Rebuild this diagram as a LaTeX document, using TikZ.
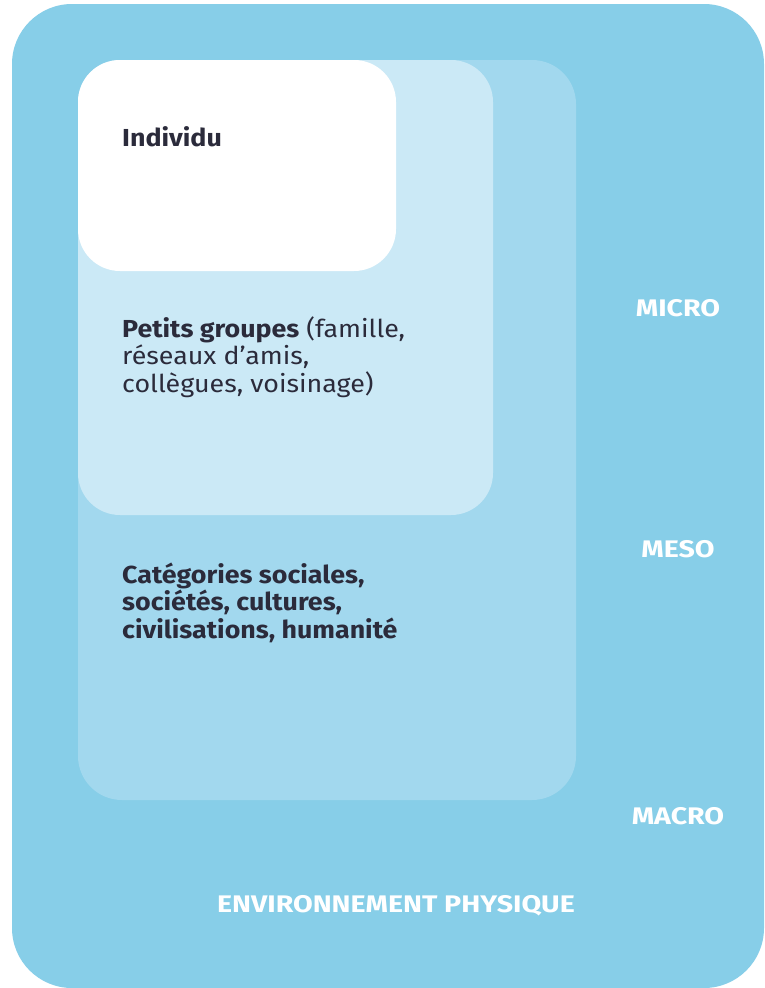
\documentclass[tikz,border=0pt]{standalone}
\usepackage{fontspec}
\setmainfont[FakeStretch=1.09]{Fira Sans}
\newfontfamily\lblfont[FakeStretch=1.19]{Fira Sans}
\definecolor{outerblue}{HTML}{87CEE8}
\definecolor{mesoblue}{HTML}{A2D8EE}
\definecolor{microblue}{HTML}{CBE9F6}
\definecolor{inktext}{HTML}{2B2B3B}
\tikzset{
  levelbox/.style={rounded corners=#1},
  bodytext/.style={anchor=base west, align=left, inner sep=0pt, text=inktext,
    font=\fontsize{24.6}{27.5}\selectfont},
  scalelabel/.style={anchor=base, inner sep=0pt, text=white,
    font=\lblfont\bfseries\fontsize{24}{28}\selectfont},
}
\begin{document}
\begin{tikzpicture}[x=1pt,y=-1pt]
\useasboundingbox (0,0) rectangle (764,988);
\fill[white] (0,0) rectangle (764,988);
\fill[outerblue, levelbox=60] (12,4) rectangle (764,988);
\fill[mesoblue, levelbox=44] (78,60) rectangle (576,800);
\fill[microblue, levelbox=42] (78,60) rectangle (493,515);
\fill[white, levelbox=42] (78,60) rectangle (396,271);
\node[bodytext] (indiv) at (122,146) {\bfseries Individu};
\node[bodytext] (petits) at (122,392) {\textbf{Petits groupes} (famille,\\réseaux d’amis,\\collègues, voisinage)};
\node[bodytext] (categ) at (122,638) {\bfseries Catégories sociales,\\\bfseries sociétés, cultures,\\\bfseries civilisations, humanité};
\node[scalelabel] (micro) at (678,316) {MICRO};
\node[scalelabel] (meso) at (678,557) {MESO};
\node[scalelabel] (macro) at (678,824) {MACRO};
\node[scalelabel] (env) at (396,912) {ENVIRONNEMENT PHYSIQUE};
\end{tikzpicture}
\end{document}
